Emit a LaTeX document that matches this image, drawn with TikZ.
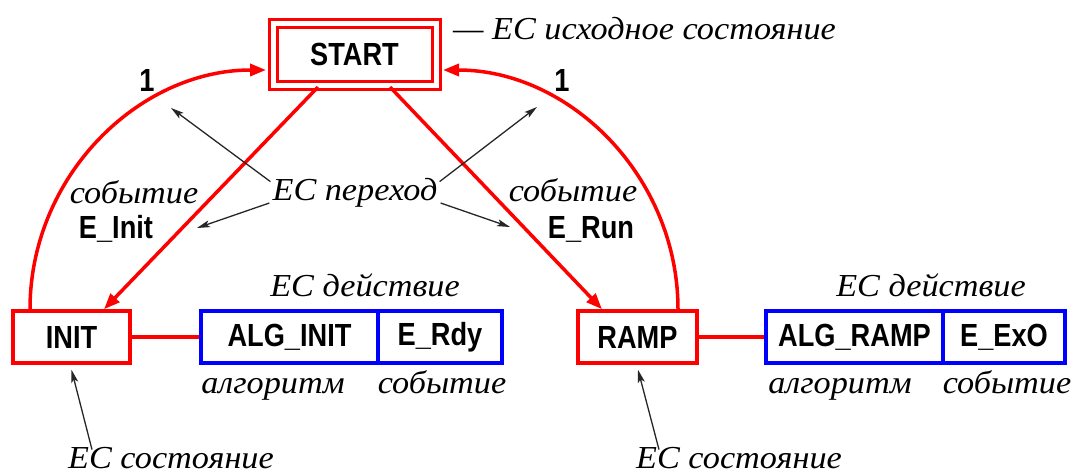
\documentclass[tikz,border=0pt]{standalone}
\usepackage{fontspec}
\setmainfont{Liberation Serif}
\newfontfamily\labelfont[FakeStretch=0.85]{Liberation Sans}
\newfontfamily\notefont[FakeStretch=1.07]{Liberation Serif}
\usetikzlibrary{arrows.meta}

\definecolor{statered}{RGB}{255,0,0}
\definecolor{actblue}{RGB}{0,0,255}

\tikzset{
  lbl/.style={font=\labelfont\bfseries\fontsize{32}{34}\selectfont, text=black},
  ital/.style={font=\notefont\itshape\fontsize{32}{34}\selectfont, inner sep=0pt},
  statebox/.style={lbl, draw=statered, line width=3.5pt, minimum height=52pt, inner sep=0pt},
  initbox/.style={lbl, draw=statered, line width=3pt, double=white, double distance=5pt,
                  minimum width=163pt, minimum height=62pt, inner sep=0pt},
  actbox/.style={lbl, draw=actblue, line width=3.5pt, minimum height=52pt, inner sep=0pt},
  trans/.style={draw=statered, line width=3.5pt, -{Triangle[length=16pt,width=12pt]}},
  link/.style={draw=statered, line width=3.5pt},
  note/.style={draw=black!85, line width=1.3pt, -{Stealth[length=13pt,width=7pt,inset=3pt]}},
}

\begin{document}
\begin{tikzpicture}[x=1pt,y=1pt]
  \useasboundingbox (0,0) rectangle (1077,475);

  % states
  \node[initbox] (start) at (354.5,420.5) {START};
  \node[statebox, minimum width=117pt] (init) at (71.5,138) {INIT};
  \node[statebox, minimum width=119pt] (ramp) at (637.5,138) {RAMP};

  % actions
  \node[actbox, minimum width=177pt] (alginit) at (289.5,138) {ALG\_INIT};
  \node[actbox, minimum width=124pt] (erdy) at (440,138) {E\_Rdy};
  \node[actbox, minimum width=177pt] (algramp) at (854.5,138) {ALG\_RAMP};
  \node[actbox, minimum width=122pt] (exo) at (1004,138) {E\_ExO};

  \draw[link] (init.east) -- (alginit.west);
  \draw[link] (ramp.east) -- (algramp.west);

  % transitions
  \draw[trans] ([xshift=-36.5pt]start.south) -- ([xshift=32.5pt]init.north);
  \draw[trans] ([xshift=35.5pt]start.south) -- ([xshift=-35.5pt]ramp.north);
  \draw[trans, shorten >=5.5pt] ([xshift=-41.5pt]init.north) to[out=90,in=180] ([yshift=-15.5pt]start.west);
  \draw[trans, shorten >=5.5pt] ([xshift=40.5pt]ramp.north) to[out=90,in=0] ([yshift=-15.5pt]start.east);

  \node[lbl, anchor=base] (one1) at (147,383) {1};
  \node[lbl, anchor=base] (one2) at (562,383) {1};

  % transition conditions
  \node[ital, anchor=base] (ev1) at (134,272) {событие};
  \node[lbl, anchor=base] (einit) at (116,237) {E\_Init};
  \node[ital, anchor=base] (ev2) at (573,273) {событие};
  \node[lbl, anchor=base] (erun) at (591,237) {E\_Run};

  % captions
  \node[ital, anchor=base west] (initial) at (453,435) {— ЕС исходное состояние};
  \node[ital, anchor=base] (trn) at (355,275) {ЕС переход};
  \node[ital, anchor=base] (act1) at (365,179) {ЕС действие};
  \node[ital, anchor=base] (act2) at (931,179) {ЕС действие};
  \node[ital, anchor=base] (alg1) at (273,82) {алгоритм};
  \node[ital, anchor=base] (ev3) at (442,82) {событие};
  \node[ital, anchor=base] (alg2) at (840,82) {алгоритм};
  \node[ital, anchor=base] (ev4) at (1007,82) {событие};
  \node[ital, anchor=base] (st1) at (171,7) {ЕС состояние};
  \node[ital, anchor=base] (st2) at (739,7) {ЕС состояние};

  % pointers from captions
  \coordinate (t1) at (171,367);
  \coordinate (t2) at (197,247);
  \coordinate (t3) at (537,368);
  \coordinate (t4) at (510,248);
  \draw[note] ([xshift=-2pt,yshift=-4pt]trn.north west) -- (t1);
  \draw[note] ([xshift=-3pt,yshift=4pt]trn.south west) -- (t2);
  \draw[note] ([xshift=2pt,yshift=-4pt]trn.north east) -- (t3);
  \draw[note] ([xshift=3pt,yshift=4pt]trn.south east) -- (t4);
  \draw[note] ([xshift=-79pt,yshift=-3pt]st1.north) -- ([yshift=-5pt]init.south);
  \draw[note] ([xshift=-80pt,yshift=-3pt]st2.north) -- ([xshift=0.5pt,yshift=-5pt]ramp.south);
\end{tikzpicture}
\end{document}
